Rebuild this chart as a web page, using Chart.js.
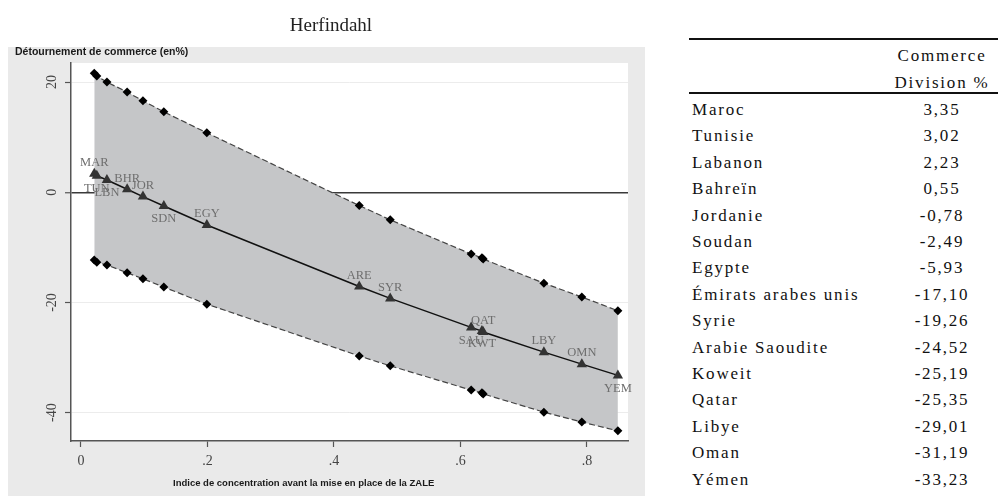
<!DOCTYPE html>
<html>
<head>
<meta charset="utf-8">
<script src="https://cdn.jsdelivr.net/npm/chart.js@4.4.1/dist/chart.umd.min.js"></script>
<style>
  body { margin: 0; background: #fff; }
  #wrap { position: absolute; left: 0; top: 0; width: 660px; height: 498px; }
  table {
    position: absolute; left: 689px; top: 38px; width: 309px;
    border-collapse: collapse; table-layout: fixed;
    font-family: "Liberation Serif", "Times New Roman", serif;
    font-size: 17px; letter-spacing: 1.8px; color: #111;
  }
  thead tr { border-top: 2px solid #111; border-bottom: 2px solid #111; }
  th { font-weight: normal; padding: 2px 0 0; vertical-align: top; }
  th div { line-height: 27px; height: 50px; overflow: visible; }
  td { padding: 0; height: 26.4px; line-height: 26.4px; white-space: nowrap; }
  td.name { padding-left: 3px; }
  td.val, th.val { text-align: center; padding-right: 6px; }
  tbody tr:first-child td { padding-top: 3px; }
</style>
</head>
<body>
<div id="wrap"><canvas id="chart" width="660" height="498"></canvas></div>
<table>
  <colgroup><col style="width:203px"><col style="width:106px"></colgroup>
  <thead><tr><th></th><th class="val"><div>Commerce<br>Division %</div></th></tr></thead>
  <tbody id="rows"></tbody>
</table>
<script>
const codes = ['MAR', 'TUN', 'LBN', 'BHR', 'JOR', 'SDN', 'EGY', 'ARE', 'SYR', 'SAU', 'KWT', 'QAT', 'LBY', 'OMN', 'YEM'];
const countries = ['Maroc', 'Tunisie', 'Labanon', 'Bahreïn', 'Jordanie', 'Soudan', 'Egypte',
  'Émirats arabes unis', 'Syrie', 'Arabie Saoudite', 'Koweit', 'Qatar', 'Libye', 'Oman', 'Yémen'];
const herfindahl = [0.021, 0.025, 0.041, 0.073, 0.098, 0.131, 0.199, 0.440, 0.489, 0.617, 0.634, 0.636, 0.732, 0.792, 0.849];
const diversion = [3.35, 3.02, 2.23, 0.55, -0.78, -2.49, -5.93, -17.10, -19.26, -24.52, -25.19, -25.35, -29.01, -31.19, -33.23];
const upperBound = [21.6, 21.1, 20.0, 18.2, 16.6, 14.6, 10.8, -2.4, -5.0, -11.2, -11.9, -12.1, -16.5, -19.0, -21.5];
const lowerBound = [-12.3, -12.7, -13.2, -14.6, -15.7, -17.2, -20.3, -29.7, -31.5, -35.9, -36.4, -36.6, -39.9, -41.7, -43.3];
const xTicks = [0, 0.2, 0.4, 0.6, 0.8];
const yTicks = [-40, -20, 0, 20];

// label position around each marker, stata clock style
const labelClock = [12, 6, 6, 12, 12, 6, 12, 12, 12, 6, 6, 12, 12, 12, 6];

const rows = document.getElementById('rows');
countries.forEach((c, i) => {
  const tr = document.createElement('tr');
  tr.innerHTML = '<td class="name">' + c + '</td><td class="val">' +
    diversion[i].toFixed(2).replace('.', ',') + '</td>';
  rows.appendChild(tr);
});

const pts = (ys) => herfindahl.map((x, i) => ({x: x, y: ys[i]}));

const stataFrame = {
  id: 'stataFrame',
  beforeDraw(chart) {
    const {ctx, chartArea: a} = chart;
    ctx.save();
    ctx.fillStyle = '#eaeaea';
    ctx.fillRect(8, 47, 637, 449);
    ctx.fillStyle = '#fff';
    ctx.fillRect(a.left, a.top, a.right - a.left, a.bottom - a.top);
    ctx.restore();
  },
  afterDatasetsDraw(chart) {
    const ctx = chart.ctx;
    const meta = chart.getDatasetMeta(0);
    ctx.save();
    ctx.font = '12.5px "Liberation Serif", serif';
    ctx.fillStyle = '#6e6e6e';
    ctx.textAlign = 'center';
    ctx.textBaseline = 'middle';
    meta.data.forEach((el, i) => {
      const dy = labelClock[i] === 12 ? -11 : 13;
      ctx.fillText(codes[i], el.x, el.y + dy);
    });
    ctx.restore();
  },
  afterDraw(chart) {
    const ctx = chart.ctx;
    const ys = chart.scales.y;
    ctx.save();
    ctx.fillStyle = '#222';
    ctx.textAlign = 'center';
    ctx.textBaseline = 'middle';
    ctx.font = '19px "Liberation Serif", serif';
    ctx.fillText('Herfindahl', 331, 26);

    ctx.fillStyle = '#444';
    ctx.font = '14px "Liberation Serif", serif';
    ys.ticks.forEach(t => {
      const y = ys.getPixelForValue(t.value);
      ctx.save();
      ctx.translate(52, y);
      ctx.rotate(-Math.PI / 2);
      ctx.fillText(String(t.value), 0, 0);
      ctx.restore();
    });

    ctx.fillStyle = '#1a1a1a';
    ctx.textAlign = 'left';
    ctx.font = 'bold 10.5px "Liberation Sans", sans-serif';
    ctx.fillText('Détournement de commerce (en%)', 15, 52);
    ctx.font = 'bold 9.5px "Liberation Sans", sans-serif';
    ctx.fillText('Indice de concentration avant la mise en place de la ZALE', 173, 483);
    ctx.restore();
  }
};

new Chart(document.getElementById('chart'), {
  type: 'scatter',
  data: {
    datasets: [
      {
        data: pts(diversion),
        showLine: true,
        borderColor: '#111',
        borderWidth: 1.5,
        pointStyle: 'triangle',
        pointRadius: 6,
        pointBackgroundColor: '#333',
        pointBorderColor: '#333',
        pointBorderWidth: 0
      },
      {
        data: pts(upperBound),
        showLine: true,
        borderColor: '#444',
        borderWidth: 1.2,
        borderDash: [6, 3],
        pointStyle: 'rectRot',
        pointRadius: 4.5,
        pointBackgroundColor: '#000',
        pointBorderColor: '#000',
        pointBorderWidth: 0,
        fill: '+1',
        backgroundColor: '#c5c6c8'
      },
      {
        data: pts(lowerBound),
        showLine: true,
        borderColor: '#444',
        borderWidth: 1.2,
        borderDash: [6, 3],
        pointStyle: 'rectRot',
        pointRadius: 4.5,
        pointBackgroundColor: '#000',
        pointBorderColor: '#000',
        pointBorderWidth: 0
      }
    ]
  },
  options: {
    responsive: false,
    animation: false,
    layout: {padding: {left: 8, top: 63, right: 32, bottom: 0}},
    plugins: {
      legend: {display: false},
      tooltip: {enabled: false},
      filler: {drawTime: 'beforeDatasetsDraw'}
    },
    scales: {
      x: {
        type: 'linear',
        min: -0.0158,
        max: 0.865,
        afterBuildTicks: s => { s.ticks = xTicks.map(v => ({value: v})); },
        afterFit: s => { s.height = 57; },
        ticks: {
          padding: 6,
          color: '#444',
          font: {family: '"Liberation Serif", serif', size: 14},
          callback: v => v === 0 ? '0' : String(v).replace('0.', '.')
        },
        grid: {drawOnChartArea: false, drawTicks: true, tickLength: 6, tickColor: '#555', tickWidth: 1.2},
        border: {display: true, color: '#555', width: 1.5}
      },
      y: {
        type: 'linear',
        min: -45.14,
        max: 23.47,
        afterBuildTicks: s => { s.ticks = yTicks.map(v => ({value: v})); },
        afterFit: s => { s.width = 63; },
        ticks: {display: false},
        grid: {
          color: c => (c.tick && c.tick.value === 0) ? '#3a3a3a' : '#ececec',
          lineWidth: c => (c.tick && c.tick.value === 0) ? 1.5 : 1,
          tickLength: 6,
          tickColor: '#555',
          tickWidth: 1.2
        },
        border: {display: true, color: '#555', width: 1.5}
      }
    }
  },
  plugins: [stataFrame]
});
</script>
</body>
</html>
